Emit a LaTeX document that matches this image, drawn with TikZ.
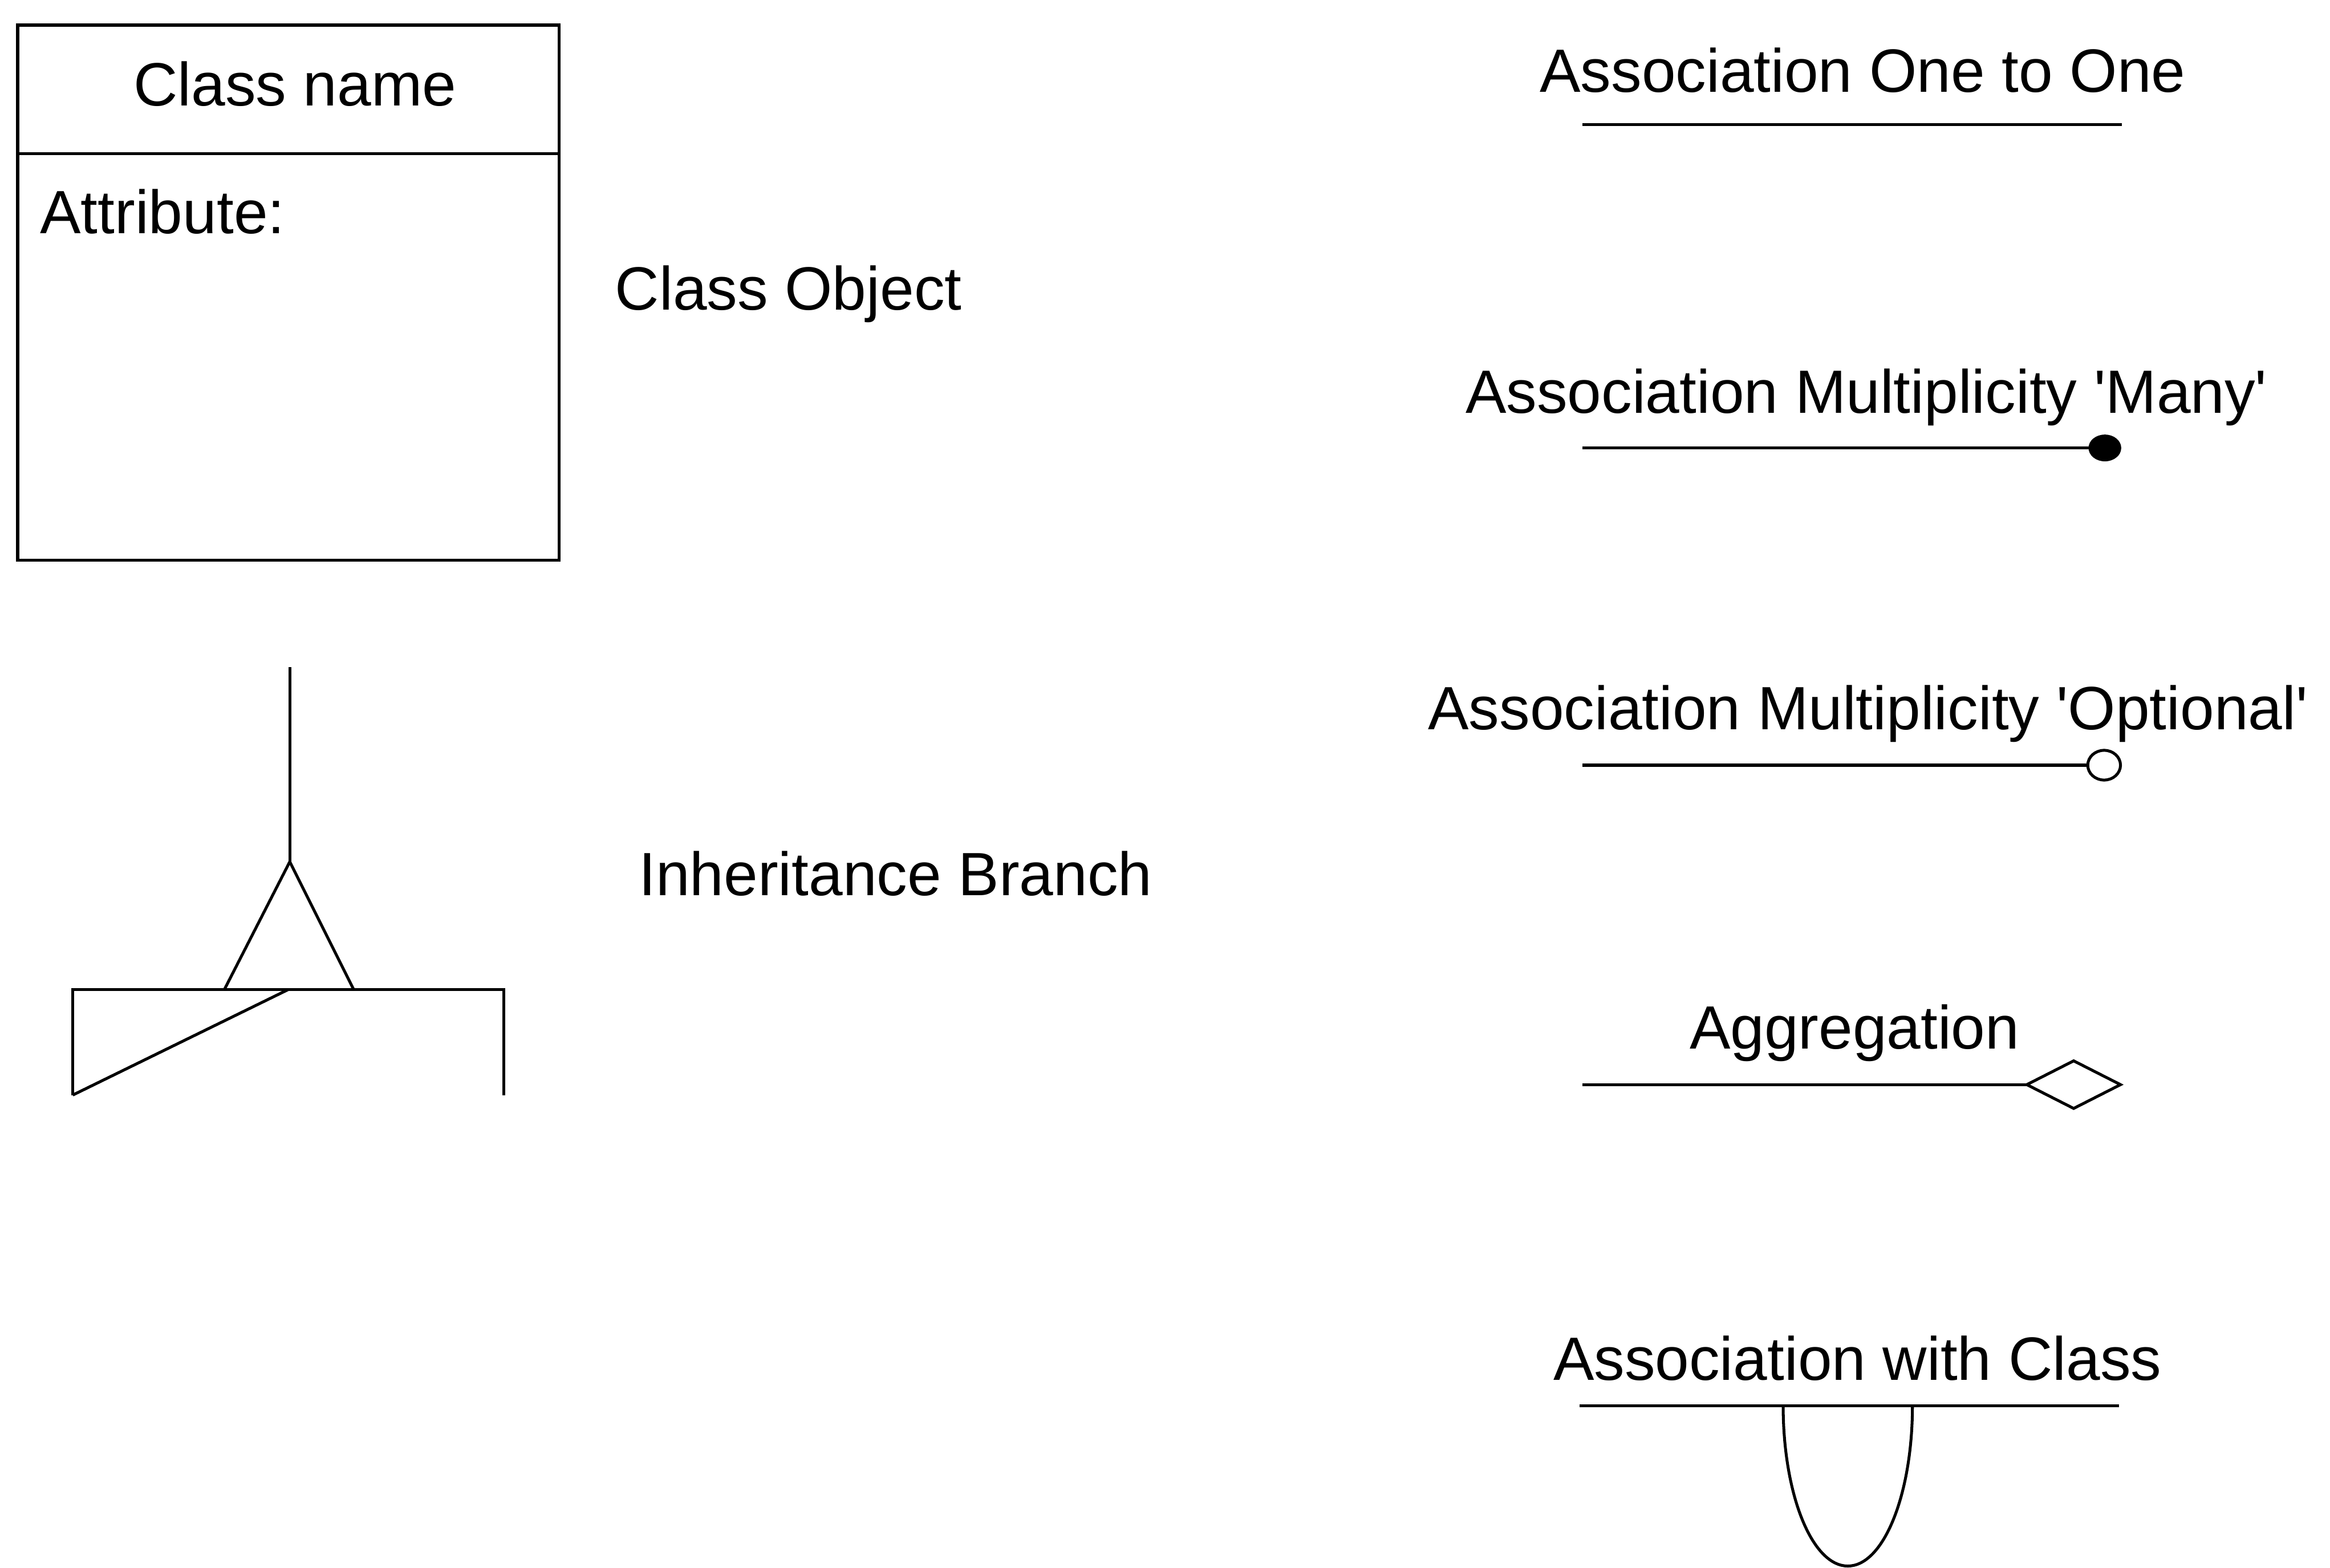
\documentclass[tikz,border=0pt]{standalone}
\usepackage{fontspec}
\setmainfont{Liberation Sans}
\usetikzlibrary{shapes.geometric}
\begin{document}
\begin{tikzpicture}[x=0.01cm,y=-0.01cm,line width=0.55pt,
  every node/.style={inner sep=0pt, outer sep=0pt, font=\fontsize{11.7}{14}\selectfont},
  lbl/.style={anchor=base},
  manyend/.style={ellipse, fill, minimum width=0.22cm, minimum height=0.18cm},
  optend/.style={ellipse, draw, minimum width=0.22cm, minimum height=0.2cm},
  aggend/.style={diamond, draw, minimum width=0.63cm, minimum height=0.32cm}]
\useasboundingbox (0,0) rectangle (1568,1055);

% class object
\node[draw, minimum width=3.64cm, minimum height=3.6cm] (classbox) at (194,197) {};
\coordinate (divl) at (12,103.5);
\draw (divl) -- (divl -| classbox.east);
\node[lbl] (clsname) at (198.5,71) {Class name};
\node[anchor=base west] (attr) at (27,157) {Attribute:};
\node[anchor=base west] (clsobj) at (414,208.5) {Class Object};

% inheritance branch
\coordinate (inhtop) at (195,449);
\coordinate (apex) at (195,580);
\coordinate (tl) at (151,666);
\coordinate (tr) at (238,666);
\coordinate (mid) at (194,666);
\coordinate (rl) at (49,666);
\coordinate (rr) at (339,666);
\coordinate (rlb) at (49,737);
\coordinate (rrb) at (339,737);
\draw (inhtop) -- (apex);
\draw (tl) -- (apex) -- (tr);
\draw (rlb) -- (rl) -- (rr) -- (rrb);
\draw (rlb) -- (mid);
\node[anchor=base west] (inhlbl) at (430,602.5) {Inheritance Branch};

% association one to one
\node[lbl] (onelbl) at (1253.5,62) {Association One to One};
\coordinate (onel) at (1065,84);
\coordinate (oner) at (1428,84);
\draw (onel) -- (oner);

% multiplicity many
\node[lbl] (manylbl) at (1256,278) {Association Multiplicity \textquotesingle Many\textquotesingle};
\coordinate (manyl) at (1065,301.5);
\node[manyend] (manydot) at (1416.5,301.5) {};
\draw (manyl) -- (manydot);

% multiplicity optional
\node[lbl] (optlbl) at (1257,491) {Association Multiplicity \textquotesingle Optional\textquotesingle};
\coordinate (optl) at (1065,515);
\node[optend] (optcirc) at (1416,515) {};
\draw (optl) -- (optcirc);

% aggregation
\node[lbl] (agglbl) at (1248,706) {Aggregation};
\coordinate (aggl) at (1065,730);
\node[aggend] (aggdia) at (1395.5,730) {};
\draw (aggl) -- (aggdia);

% association with class
\node[lbl] (asclbl) at (1250,929) {Association with Class};
\coordinate (ascl) at (1063,946);
\coordinate (ascr) at (1426,946);
\coordinate (loopl) at (1200,946);
\coordinate (loopbot) at (1243.5,1054);
\coordinate (loopr) at (1287,946);
\draw (ascl) -- (ascr);
\draw (loopl) .. controls (1200,1006) and (1219.5,1054) .. (loopbot)
  .. controls (1267.5,1054) and (1287,1006) .. (loopr);
\end{tikzpicture}
\end{document}
